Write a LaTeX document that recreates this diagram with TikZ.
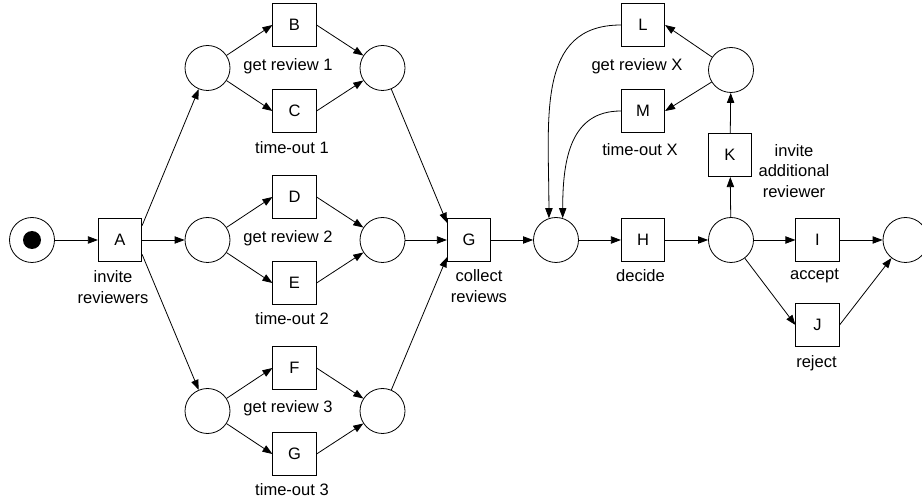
\documentclass[tikz,border=0pt]{standalone}
\usepackage{fontspec}
\setmainfont{Liberation Sans}
\usetikzlibrary{arrows.meta,calc}
\begin{document}
\begin{tikzpicture}[x=0.75pt,y=-0.75pt,
  every node/.style={font=\fontsize{12.4}{15.5}\selectfont},
  place/.style={draw,circle,minimum size=33.75pt,inner sep=0pt,line width=0.6pt},
  trans/.style={draw,rectangle,minimum size=32.5pt,inner sep=0pt,line width=0.6pt},
  lbl/.style={inner sep=0pt,align=center},
  arc/.style={line width=0.6pt,-{Triangle[length=7.5pt,width=5.5pt]}},
  token/.style={fill=black,circle,inner sep=0pt,minimum size=13.5pt}]

\useasboundingbox (0,0) rectangle (922,502);

% start place with its token
\node[place] (start) at (32,240) {};
\node[token] (tok) at (start.center) {};

% invitation
\node[trans] (A) at (120,240) {A};
\node[lbl] (lblA) at (113,287) {invite\\reviewers};

% reviewer 1
\node[place] (pU1) at (207.5,68) {};
\node[trans] (B) at (294.5,25) {B};
\node[trans] (C) at (294.5,111) {C};
\node[place] (pU2) at (382.5,68) {};
\node[lbl] (lblB) at (288,66) {get review 1};
\node[lbl] (lblC) at (292,148) {time-out 1};

% reviewer 2
\node[place] (pM1) at (207.5,240) {};
\node[trans] (D) at (294.5,197) {D};
\node[trans] (E) at (294.5,283) {E};
\node[place] (pM2) at (382.5,240) {};
\node[lbl] (lblD) at (288,238) {get review 2};
\node[lbl] (lblE) at (292,319) {time-out 2};

% reviewer 3
\node[place] (pL1) at (207.5,411) {};
\node[trans] (F) at (294.5,368) {F};
\node[trans] (G3) at (294.5,454) {G};
\node[place] (pL2) at (382.5,411) {};
\node[lbl] (lblF) at (288,408) {get review 3};
\node[lbl] (lblG3) at (292,490) {time-out 3};

% collecting and deciding
\node[trans] (Gc) at (469,240) {G};
\node[lbl] (lblGc) at (479,286) {collect\\reviews};
\node[place] (p5) at (556,240) {};
\node[trans] (H) at (643,240) {H};
\node[lbl] (lblH) at (640.5,276) {decide};
\node[place] (p7) at (731,240) {};
\node[trans] (I) at (817.5,240) {I};
\node[lbl] (lblI) at (814.5,276) {accept};
\node[trans] (J) at (817.5,325) {J};
\node[lbl] (lblJ) at (816.5,363) {reject};
\node[place] (pend) at (905.5,240) {};

% additional reviewer loop
\node[trans] (K) at (730,155) {K};
\node[lbl] (lblK) at (794,171) {invite\\additional\\reviewer};
\node[place] (p8) at (731,70) {};
\node[trans] (L) at (643,25) {L};
\node[lbl] (lblL) at (637,66) {get review X};
\node[trans] (M) at (643,111) {M};
\node[lbl] (lblM) at (640,150) {time-out X};

% arcs
\draw[arc] (start) -- (A);
\draw[arc] (A.33) -- (pU1);
\draw[arc] (A) -- (pM1);
\draw[arc] (A.-33) -- (pL1);

\draw[arc] (pU1) -- (B.west);
\draw[arc] (pU1) -- (C.west);
\draw[arc] (B.east) -- (pU2);
\draw[arc] (C.east) -- (pU2);

\draw[arc] (pM1) -- (D.west);
\draw[arc] (pM1) -- (E.west);
\draw[arc] (D.east) -- (pM2);
\draw[arc] (E.east) -- (pM2);

\draw[arc] (pL1) -- (F.west);
\draw[arc] (pL1) -- (G3.west);
\draw[arc] (F.east) -- (pL2);
\draw[arc] (G3.east) -- (pL2);

\draw[arc] (pU2) -- (Gc.142);
\draw[arc] (pM2) -- (Gc);
\draw[arc] (pL2) -- (Gc.218);

\draw[arc] (Gc) -- (p5);
\draw[arc] (p5) -- (H);
\draw[arc] (H) -- (p7);
\draw[arc] (p7) -- (I);
\draw[arc] (p7) -- (J.west);
\draw[arc] (I) -- (pend);
\draw[arc] (J.east) -- (pend);

\draw[arc] (p7) -- (K);
\draw[arc] (K) -- (p8);
\draw[arc] (p8) -- (L.east);
\draw[arc] (p8) -- (M.east);
\draw[arc] (L.west) .. controls +(-85,0) and +(0,-100) .. (p5.108);
\draw[arc] (M.west) .. controls +(-50,0) and +(0,-60) .. (p5.73);
\end{tikzpicture}
\end{document}
